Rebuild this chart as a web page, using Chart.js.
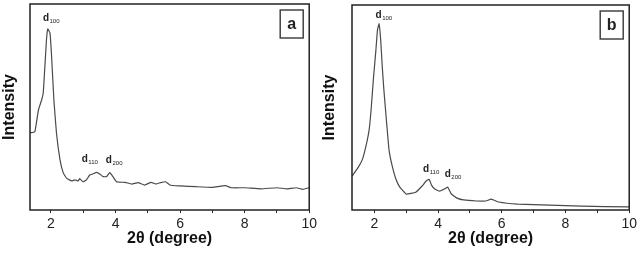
<!DOCTYPE html>
<html>
<head>
<meta charset="utf-8">
<script src="https://cdn.jsdelivr.net/npm/chart.js@4.4.0/dist/chart.umd.min.js"></script>
<style>
  html, body { margin: 0; padding: 0; background: #fff; }
  .panel { position: absolute; top: 0; width: 320px; height: 254px; }
</style>
</head>
<body>
<div class="panel" style="left:0"><canvas id="chartA" width="320" height="254"></canvas></div>
<div class="panel" style="left:320px"><canvas id="chartB" width="320" height="254"></canvas></div>
<script>
// panel a
const twoThetaA = [1.35, 1.5, 1.61, 1.71, 1.76, 1.81, 1.86, 1.9, 1.97, 2.02, 2.09, 2.17, 2.28, 2.38, 2.48,
  2.64, 2.74, 2.84, 2.89, 2.99, 3.1, 3.2, 3.3, 3.41, 3.51, 3.61, 3.72, 3.82, 3.92, 4.03,
  4.3, 4.5, 4.7, 4.9, 5.1, 5.25, 5.4, 5.55, 5.7, 6.0, 6.5, 7.0, 7.4, 7.6, 8.0, 8.5, 9.0, 9.3, 9.6, 9.8, 10.0];
const intensityA = [37.5, 38.0, 48.5, 53.4, 56.8, 69.4, 82.5, 87.9, 85.9, 74.3, 53.4, 37.4, 24.3, 18.0, 15.5,
  14.1, 14.6, 14.1, 15.2, 13.7, 14.6, 17.0, 17.5, 18.3, 17.5, 16.2, 16.2, 18.1, 16.2, 13.7,
  13.4, 12.6, 13.3, 12.1, 13.4, 12.6, 13.3, 13.7, 12.0, 11.7, 11.3, 11.0, 11.8, 10.8, 10.8, 10.3, 10.8, 10.3, 10.8, 10.0, 10.8];

// panel b
const twoThetaB = [1.3, 1.5, 1.63, 1.75, 1.84, 1.9, 1.97, 2.05, 2.1, 2.15, 2.2, 2.25, 2.3, 2.37, 2.46, 2.55,
  2.68, 2.8, 3.0, 3.3, 3.5, 3.62, 3.72, 3.8, 3.9, 4.05, 4.2, 4.3, 4.42, 4.6, 4.8, 5.2, 5.5, 5.67, 5.9,
  6.5, 7.5, 8.5, 10.0];
const intensityB = [16.5, 20.9, 24.8, 32.0, 39.3, 49.0, 63.6, 78.0, 87.9, 90.8, 83.0, 69.9, 58.7, 45.6, 29.6, 22.3,
  15.0, 11.2, 7.8, 8.7, 11.7, 14.0, 15.0, 12.0, 10.2, 9.2, 10.2, 11.2, 7.8, 5.8, 4.9, 4.4, 4.4, 5.3, 3.9,
  2.9, 2.4, 1.9, 1.5];

const xTicks = [2, 4, 6, 8, 10];
const peakLabelsA = [
  { x: 1.75, y: 91.7, hkl: '100' },
  { x: 2.95, y: 23.3, hkl: '110' },
  { x: 3.70, y: 22.8, hkl: '200' }
];
const peakLabelsB = [
  { x: 2.04, y: 93.7, hkl: '100' },
  { x: 3.53, y: 18.4, hkl: '110' },
  { x: 4.21, y: 16.0, hkl: '200' }
];

const framePlugin = {
  id: 'frame',
  afterDraw(chart, args, opts) {
    const { ctx, chartArea: a, scales } = chart;
    ctx.save();
    ctx.strokeStyle = '#222';
    ctx.lineWidth = 1.5;
    ctx.strokeRect(a.left, a.top, a.right - a.left, a.bottom - a.top);

    // hkl labels
    ctx.fillStyle = '#222';
    ctx.textBaseline = 'alphabetic';
    opts.peaks.forEach(p => {
      const px = scales.x.getPixelForValue(p.x);
      const py = scales.y.getPixelForValue(p.y);
      ctx.font = 'bold 10px "Liberation Sans", Arial, sans-serif';
      ctx.fillText('d', px, py);
      const w = ctx.measureText('d').width;
      ctx.font = '6px "Liberation Sans", Arial, sans-serif';
      ctx.fillText(p.hkl, px + w + 0.5, py + 2);
    });

    // panel letter box
    const bw = 23, bh = 28;
    const bx = a.right - 6 - bw, by = a.top + 6;
    ctx.fillStyle = '#fff';
    ctx.fillRect(bx, by, bw, bh);
    ctx.strokeStyle = '#444';
    ctx.lineWidth = 1.5;
    ctx.strokeRect(bx, by, bw, bh);
    ctx.fillStyle = '#222';
    ctx.font = 'bold 16px "Liberation Sans", Arial, sans-serif';
    ctx.textAlign = 'center';
    ctx.textBaseline = 'middle';
    ctx.fillText(opts.letter, bx + bw / 2, by + bh / 2 + 1);
    ctx.restore();
  }
};

function makePanel(id, xs, ys, xMin, pad, peaks, letter) {
  return new Chart(document.getElementById(id), {
    type: 'line',
    data: {
      datasets: [{
        data: xs.map((x, i) => ({ x: x, y: ys[i] })),
        borderColor: '#4a4a4a',
        borderWidth: 1.2,
        pointRadius: 0,
        tension: 0.1,
        fill: false
      }]
    },
    options: {
      responsive: false,
      animation: false,
      layout: { padding: pad },
      plugins: {
        legend: { display: false },
        tooltip: { enabled: false },
        frame: { peaks: peaks, letter: letter }
      },
      scales: {
        x: {
          type: 'linear',
          min: xMin,
          max: 10,
          afterFit: s => { s.height = 44; },
          grid: { drawOnChartArea: false, tickLength: 3, color: '#222', tickWidth: 1 },
          border: { display: false },
          ticks: {
            stepSize: 1,
            includeBounds: false,
            autoSkip: false,
            maxRotation: 0,
            padding: 3,
            color: '#222',
            font: { family: '"Liberation Sans", Arial, sans-serif', size: 14 },
            callback: v => xTicks.includes(v) ? String(v) : ''
          },
          title: {
            display: true,
            text: '2θ (degree)',
            color: '#111',
            font: { family: '"Liberation Sans", Arial, sans-serif', size: 16, weight: 'bold' },
            padding: { top: 0, bottom: 6 }
          }
        },
        y: {
          min: 0,
          max: 100,
          afterFit: s => { s.width = pad.yWidth; },
          grid: { display: false },
          border: { display: false },
          ticks: { display: false },
          title: {
            display: true,
            text: 'Intensity',
            color: '#111',
            font: { family: '"Liberation Sans", Arial, sans-serif', size: 16, weight: 'bold' },
            padding: { top: 0, bottom: 0 }
          }
        }
      }
    },
    plugins: [framePlugin]
  });
}

makePanel('chartA', twoThetaA, intensityA, 1.35, { top: 4, right: 10, left: 0, bottom: 0, yWidth: 30 }, peakLabelsA, 'a');
makePanel('chartB', twoThetaB, intensityB, 1.3, { top: 5, right: 7, left: 0, bottom: 0, yWidth: 32 }, peakLabelsB, 'b');
</script>
</body>
</html>
